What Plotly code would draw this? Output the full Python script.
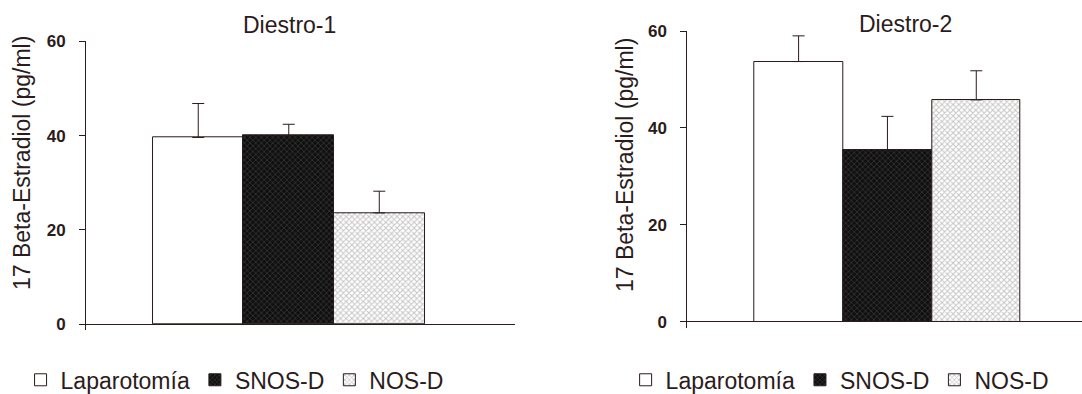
import plotly.graph_objects as go

# Groups and 17 beta-estradiol means (pg/ml) with upper error (SEM)
groups = ["Laparotomía", "SNOS-D", "NOS-D"]
d1_means = [39.6, 40.0, 23.6]
d1_errors = [7.2, 2.4, 4.6]
d2_means = [53.7, 35.5, 45.8]
d2_errors = [5.3, 6.9, 6.0]
y_ticks = [0, 20, 40, 60]
panel_titles = ["Diestro-1", "Diestro-2"]
y_title = "17 Beta-Estradiol (pg/ml)"

INK = "#2b1b1b"
FONT = "Liberation Sans, Arial, sans-serif"

fills = [
    dict(color="white", pattern=None),
    dict(color="#111111", pattern=dict(shape="x", fgcolor="#7a7a7a", bgcolor="#101010", size=4, solidity=0.25)),
    dict(color="white", pattern=dict(shape="x", fgcolor="#8c8c8c", bgcolor="#ffffff", size=4, solidity=0.45)),
]

fig = go.Figure()

panels = [
    (d1_means, d1_errors, "x", "y", "legend"),
    (d2_means, d2_errors, "x2", "y2", "legend2"),
]
for means, errors, xa, ya, lg in panels:
    for i, name in enumerate(groups):
        f = fills[i]
        marker = dict(color=f["color"], line=dict(color=INK, width=1))
        if f["pattern"] is not None:
            marker["pattern"] = f["pattern"]
        fig.add_trace(go.Bar(
            x=[i], y=[means[i]], name=name, width=1,
            marker=marker,
            error_y=dict(type="data", symmetric=False, array=[errors[i]], arrayminus=[0],
                         color=INK, thickness=1, width=6),
            xaxis=xa, yaxis=ya, legend=lg,
        ))

axis_y = dict(
    tickvals=y_ticks, ticks="outside", ticklen=6, tickcolor=INK,
    showline=True, linecolor=INK, linewidth=1, showgrid=False,
    zeroline=True, zerolinecolor=INK, zerolinewidth=1,
    tickfont=dict(family=FONT, size=17, color=INK, weight="bold"),
    ticklabelstandoff=10,
)
axis_x = dict(showline=False, showgrid=False, zeroline=False, showticklabels=False, ticks="")
legend_style = dict(orientation="h", yanchor="middle", xanchor="left", itemwidth=30,
                    font=dict(family=FONT, size=23, color=INK), bgcolor="rgba(0,0,0,0)")

fig.update_layout(
    width=1082, height=394,
    margin=dict(l=0, r=0, t=0, b=0, autoexpand=False),
    paper_bgcolor="white", plot_bgcolor="white",
    barmode="overlay", bargap=0,
    font=dict(family=FONT, color=INK),
    xaxis=dict(axis_x, domain=[0.0795, 0.476], range=[-1.24, 3.5], anchor="y"),
    yaxis=dict(axis_y, domain=[0.1617, 0.8952], range=[-1.3, 60], anchor="x"),
    xaxis2=dict(axis_x, domain=[0.6352, 1.0], range=[-1.253, 3.19], anchor="y2"),
    yaxis2=dict(axis_y, domain=[0.1675, 0.9213], range=[-1.24, 60], anchor="x2"),
    legend=dict(legend_style, x=0.019, y=0.036),
    legend2=dict(legend_style, x=0.5782, y=0.036),
    showlegend=True,
)

# Panel titles and y-axis titles
for x_px, y_px, text in [(289, 25, panel_titles[0]), (905, 24, panel_titles[1])]:
    fig.add_annotation(text=text, xref="paper", yref="paper", x=x_px / 1082, y=1 - y_px / 394,
                       showarrow=False, xanchor="center", yanchor="middle",
                       font=dict(family=FONT, size=23, color=INK))
for x_px, y_px in [(22, 163), (625, 165)]:
    fig.add_annotation(text=y_title, xref="paper", yref="paper", x=x_px / 1082, y=1 - y_px / 394,
                       showarrow=False, textangle=-90, xanchor="center", yanchor="middle",
                       font=dict(family=FONT, size=23, color=INK))

fig.write_html("out.html")
